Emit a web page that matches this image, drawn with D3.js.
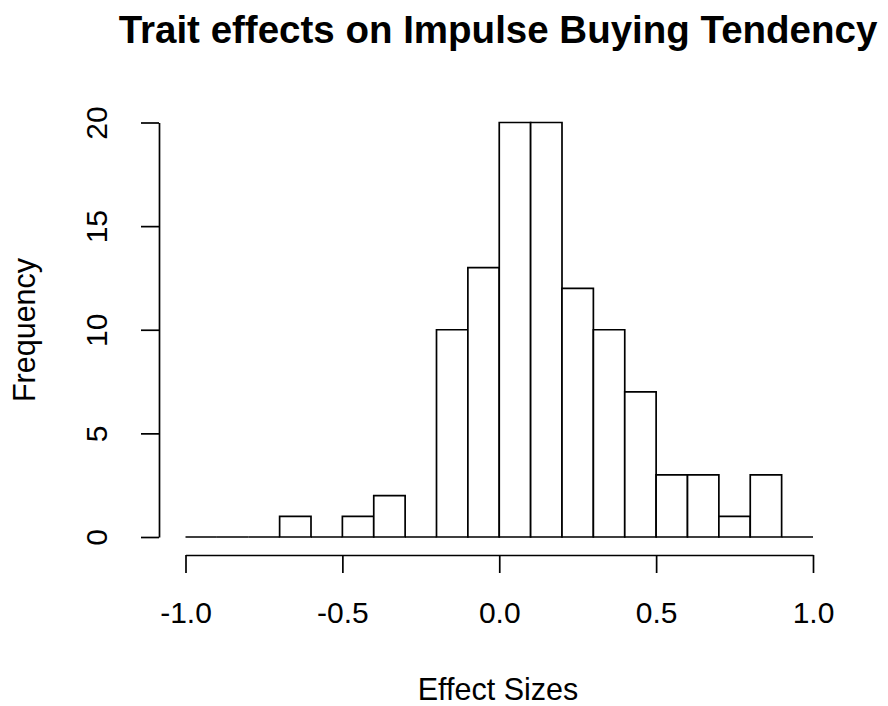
<!DOCTYPE html>
<html>
<head>
<meta charset="utf-8">
<script src="https://cdn.jsdelivr.net/npm/d3@7"></script>
<style>
  html, body { margin: 0; padding: 0; background: #fff; }
  svg { display: block; }
  text { font-family: "Liberation Sans", Arial, sans-serif; fill: #000; }
</style>
</head>
<body>
<svg id="chart" width="888" height="706"></svg>
<script>
// Histogram bins of effect sizes (width 0.1, from -1.0 to 1.0)
const binStarts = [-1.0, -0.9, -0.8, -0.7, -0.6, -0.5, -0.4, -0.3, -0.2, -0.1,
                    0.0,  0.1,  0.2,  0.3,  0.4,  0.5,  0.6,  0.7,  0.8,  0.9];
const binWidth = 0.1;
const counts = [0, 0, 0, 1, 0, 1, 2, 0, 10, 13, 20, 20, 12, 10, 7, 3, 3, 1, 3, 0];

const xTicks = [-1.0, -0.5, 0.0, 0.5, 1.0];
const xTickLabels = ["-1.0", "-0.5", "0.0", "0.5", "1.0"];
const yTicks = [0, 5, 10, 15, 20];
const yTickLabels = ["0", "5", "10", "15", "20"];

const titleText = "Trait effects on Impulse Buying Tendency";
const xLabel = "Effect Sizes";
const yLabel = "Frequency";

const svg = d3.select("#chart");

const x = d3.scaleLinear().domain([-1, 1]).range([185.5, 813]);
const y = d3.scaleLinear().domain([0, 20]).range([537, 122.5]);

const lineW = 1.7;

// Bars drawn as closed outlines so empty bins still show on the baseline
svg.append("g")
  .selectAll("path")
  .data(binStarts.map((s, i) => ({ lo: s, hi: s + binWidth, n: counts[i] })))
  .join("path")
  .attr("d", d => {
    const p = d3.path();
    p.moveTo(x(d.lo), y(0));
    p.lineTo(x(d.lo), y(d.n));
    p.lineTo(x(d.hi), y(d.n));
    p.lineTo(x(d.hi), y(0));
    p.closePath();
    return p.toString();
  })
  .attr("fill", "#fff")
  .attr("stroke", "#000")
  .attr("stroke-width", lineW)
  .attr("stroke-linejoin", "miter");

// X axis, offset below the bars
const xAxis = svg.append("g")
  .attr("transform", "translate(0,555)")
  .call(d3.axisBottom(x)
    .tickValues(xTicks)
    .tickFormat((d, i) => xTickLabels[i])
    .tickSize(18)
    .tickSizeOuter(0));
xAxis.selectAll("path, line").attr("stroke", "#000").attr("stroke-width", lineW);
xAxis.selectAll("text")
  .attr("y", 68)
  .attr("dy", null)
  .style("font-size", "30px")
  .style("font-family", "'Liberation Sans', Arial, sans-serif")
  .attr("fill", "#000");

// Y axis, offset left of the bars
const yAxis = svg.append("g")
  .attr("transform", "translate(159,0)")
  .call(d3.axisLeft(y)
    .tickValues(yTicks)
    .tickFormat((d, i) => yTickLabels[i])
    .tickSize(18)
    .tickSizeOuter(0));
yAxis.selectAll("path, line").attr("stroke", "#000").attr("stroke-width", lineW);
yAxis.selectAll("text")
  .attr("x", null)
  .attr("dy", null)
  .attr("text-anchor", "middle")
  .attr("transform", "translate(-52,0) rotate(-90)")
  .style("font-size", "30px")
  .style("font-family", "'Liberation Sans', Arial, sans-serif")
  .attr("fill", "#000");

// Title
svg.append("text")
  .attr("x", 498)
  .attr("y", 43)
  .attr("text-anchor", "middle")
  .style("font-size", "38.5px")
  .style("font-weight", "bold")
  .text(titleText);

// Axis titles
svg.append("text")
  .attr("x", 498)
  .attr("y", 700)
  .attr("text-anchor", "middle")
  .style("font-size", "30.5px")
  .text(xLabel);

svg.append("text")
  .attr("transform", "translate(35,330) rotate(-90)")
  .attr("text-anchor", "middle")
  .style("font-size", "30.5px")
  .text(yLabel);
</script>
</body>
</html>
